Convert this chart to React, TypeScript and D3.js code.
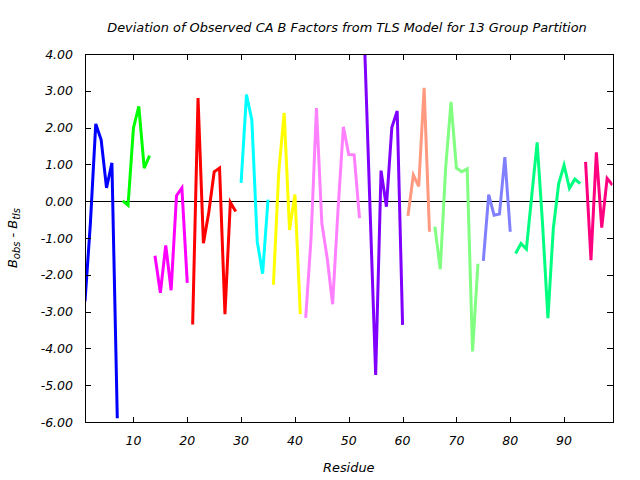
import React from "react";
import * as d3 from "d3";

// Group partition: first residue of each TLS group, colour and observed-minus-model values
const groupStarts = [1, 8, 14, 21, 30, 36, 42, 53, 61, 66, 75, 81, 94];
const groupColors = [
  "#0000ff", "#00ff00", "#ff00ff", "#ff0000", "#00ffff", "#ffff00", "#ff80ff",
  "#8000ff", "#ff9980", "#80ff80", "#8080ff", "#00ff80", "#ff0080",
];
const g1 = [-2.72, -0.6, 2.1, 1.67, 0.36, 1.04, -5.9];
const g2 = [0.01, -0.11, 1.99, 2.58, 0.9, 1.24];
const g3 = [-1.48, -2.49, -1.2, -2.42, 0.15, 0.36, -2.22];
const g4 = [-3.35, 2.8, -1.14, -0.3, 0.8, 0.9, -3.07, -0.03, -0.28];
const g5 = [0.5, 2.9, 2.2, -1.1, -1.97, 0.04];
const g6 = [-2.27, 0.8, 2.4, -0.78, 0.18, -3.07];
const g7 = [-3.17, -1.0, 2.53, -0.6, -1.55, -2.8, -0.25, 2.02, 1.27, 1.26, -0.46];
const g8 = [4.0, -0.4, -4.72, 0.83, -0.15, 2.0, 2.45, -3.36];
const g9 = [-0.4, 0.71, 0.4, 3.08, -0.83];
const g10 = [-0.69, -1.85, 0.9, 2.7, 0.9, 0.8, 0.88, -4.08, -1.7];
const g11 = [-1.62, 0.18, -0.38, -0.35, 1.2, -0.83];
const g12 = [-1.42, -1.15, -1.3, 0.15, 1.6, -0.6, -3.18, -0.75, 0.47, 0.98, 0.35, 0.6, 0.48];
const g13 = [1.07, -1.6, 1.33, -0.72, 0.62, 0.44];
const groupValues = [g1, g2, g3, g4, g5, g6, g7, g8, g9, g10, g11, g12, g13];

const xTicks = [10, 20, 30, 40, 50, 60, 70, 80, 90];
const yTicks = [-6, -5, -4, -3, -2, -1, 0, 1, 2, 3, 4];
const xDomain = [1, 99];
const yDomain = [-6, 4];

const titleText = "Deviation of Observed CA B Factors from TLS Model for 13 Group Partition";
const xLabel = "Residue";

export default function App() {
  const W = 640, H = 480;
  const left = 85, right = 612.5, top = 54, bottom = 422;
  const x = d3.scaleLinear().domain(xDomain).range([left, right]);
  const y = d3.scaleLinear().domain(yDomain).range([bottom, top]);
  const line = d3
    .line<[number, number]>()
    .x((d) => x(d[0]))
    .y((d) => y(d[1]));
  const font = "'DejaVu Sans', sans-serif";
  const tl = 5.5;
  const crisp = (v: number) => Math.round(v) + 0.5;

  return (
    <svg
      width={W}
      height={H}
      style={{ position: "absolute", left: 0, top: 0, background: "#fff" }}
      fontFamily={font}
      fontStyle="italic"
    >
      <defs>
        <clipPath id="plotclip">
          <rect x={left} y={top} width={right - left} height={bottom - top} />
        </clipPath>
      </defs>
      <rect x={0} y={0} width={W} height={H} fill="#fff" />
      {/* zero line */}
      <line
        x1={left}
        x2={right}
        y1={crisp(y(0))}
        y2={crisp(y(0))}
        stroke="#000"
        strokeWidth={1}
        shapeRendering="crispEdges"
      />
      {/* series */}
      <g clipPath="url(#plotclip)">
        {groupValues.map((vals, gi) => {
          const pts = vals.map((v, i) => [groupStarts[gi] + i, v] as [number, number]);
          return (
            <path
              key={gi}
              d={line(pts) || ""}
              fill="none"
              stroke={groupColors[gi]}
              strokeWidth={3}
              strokeLinejoin="miter"
              strokeLinecap="butt"
            />
          );
        })}
      </g>
      {/* frame */}
      <rect
        x={crisp(left)}
        y={crisp(top)}
        width={Math.round(right - left)}
        height={Math.round(bottom - top)}
        fill="none"
        stroke="#000"
        strokeWidth={1}
        shapeRendering="crispEdges"
      />
      {/* ticks */}
      <g shapeRendering="crispEdges" stroke="#000" strokeWidth={1}>
        {xTicks.map((t) => (
          <g key={t}>
            <line x1={crisp(x(t))} x2={crisp(x(t))} y1={bottom} y2={bottom - tl} />
            <line x1={crisp(x(t))} x2={crisp(x(t))} y1={top} y2={top + tl} />
          </g>
        ))}
        {yTicks.map((t) => (
          <g key={t}>
            <line x1={left} x2={left + tl} y1={crisp(y(t))} y2={crisp(y(t))} />
            <line x1={right} x2={right - tl} y1={crisp(y(t))} y2={crisp(y(t))} />
          </g>
        ))}
      </g>
      <g fontSize={12.5} fill="#000">
        {xTicks.map((t) => (
          <text key={t} x={x(t)} y={445} textAnchor="middle">
            {String(t)}
          </text>
        ))}
        {yTicks.map((t) => (
          <text key={t} x={73} y={y(t) + 4.5} textAnchor="end">
            {t.toFixed(2)}
          </text>
        ))}
      </g>
      <text x={347} y={32} textAnchor="middle" fontSize={12.9} fill="#000">
        {titleText}
      </text>
      <text x={(left + right) / 2} y={472} textAnchor="middle" fontSize={12.9} fill="#000">
        {xLabel}
      </text>
      <text
        transform={`translate(17,${(top + bottom) / 2}) rotate(-90)`}
        textAnchor="middle"
        fontSize={12.9}
        fill="#000"
      >
        <tspan>B</tspan>
        <tspan fontSize={10} dy={3}>obs</tspan>
        <tspan dy={-3}>{"  -  B"}</tspan>
        <tspan fontSize={10} dy={3}>tls</tspan>
      </text>
    </svg>
  );
}
